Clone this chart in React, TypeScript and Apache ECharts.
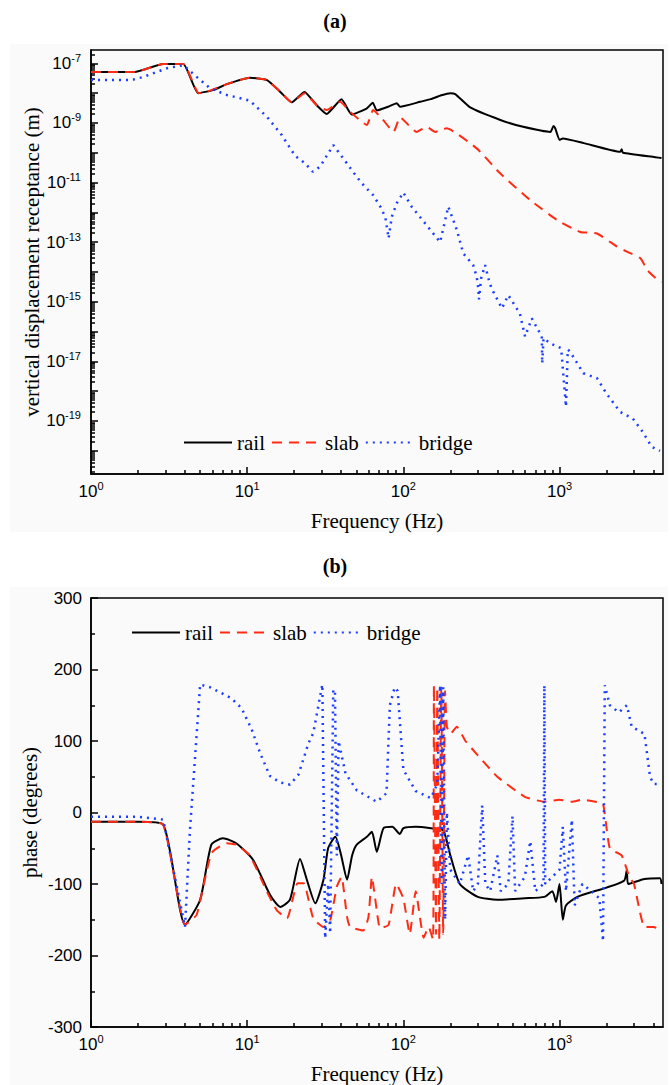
import React, { useEffect, useRef } from "react";
import * as echarts from "echarts";

// ---------- Panel (a): vertical displacement receptance (m) ----------
const freqRailA = [1, 1.9, 2.9, 3.9, 4.85, 6.05, 7.4, 10.4, 13.4, 16.3, 19.3, 23.3, 27.8, 32.3, 40.2, 46.7, 58.4, 63.8, 67.6, 80, 90.7, 95.3, 128, 150, 175, 200, 215, 268, 418, 585, 875, 915, 940, 1000, 1050, 1430, 2450, 2500, 2550, 4100, 4500];
const recRailA = [5.1e-8, 5.1e-8, 9.5e-8, 9.5e-8, 1.0e-8, 1.26e-8, 2.0e-8, 3.3e-8, 2.75e-8, 1.1e-8, 4.9e-9, 1.1e-8, 4.0e-9, 2.0e-9, 6.2e-9, 1.9e-9, 3.1e-9, 4.8e-9, 2.6e-9, 3.5e-9, 4.6e-9, 3.5e-9, 5.1e-9, 6.3e-9, 8.5e-9, 1.0e-8, 9.3e-9, 3.3e-9, 1.26e-9, 7.4e-10, 5.0e-10, 7.9e-10, 6.5e-10, 2.7e-10, 3.0e-10, 2.1e-10, 1.07e-10, 1.32e-10, 1.0e-10, 7.1e-11, 6.6e-11];

const freqSlabA = [1, 1.9, 2.9, 3.9, 4.9, 5.5, 7.4, 10.4, 13.4, 16.3, 19.3, 23.3, 27.8, 32.3, 39.3, 45.6, 52, 58.4, 64, 73, 86.6, 95.3, 121.6, 141, 160, 189, 295, 418, 648, 965, 1360, 1740, 2330, 2700, 3300, 3650, 4130, 4500];
const recSlabA = [5.1e-8, 5.1e-8, 9.5e-8, 9.5e-8, 1.0e-8, 1.1e-8, 2.0e-8, 3.3e-8, 2.75e-8, 1.1e-8, 4.9e-9, 1.0e-8, 4.0e-9, 2.7e-9, 5.1e-9, 2.4e-9, 1.3e-9, 8.5e-10, 2.7e-9, 1.4e-9, 5.0e-10, 1.55e-9, 5.0e-10, 7.4e-10, 5.0e-10, 6.6e-10, 1.4e-10, 2.0e-11, 2.6e-12, 5.5e-13, 2.2e-13, 1.95e-13, 7.1e-14, 4.8e-14, 2.9e-14, 1.15e-14, 6.2e-15, 4.5e-15];

const freqBridgeA = [1, 1.82, 2.16, 3.06, 3.9, 4.75, 5.8, 7.4, 10.4, 13.4, 16.6, 20.3, 23.5, 26.3, 29.3, 35.6, 41.2, 50.3, 56.8, 64.1, 71.2, 76.6, 80.5, 84.3, 90.7, 100, 113, 141, 172, 194, 220, 242, 280, 295, 302, 305, 315, 334, 350, 367, 428, 470, 557, 602, 665, 770, 775, 790, 875, 1025, 1100, 1130, 1170, 1420, 1740, 2000, 2450, 2950, 3400, 3900, 4400];
const recBridgeA = [2.75e-8, 2.75e-8, 3.5e-8, 6.8e-8, 8.7e-8, 3.5e-8, 1.45e-8, 8.7e-9, 5.6e-9, 1.6e-9, 4.0e-10, 7.8e-11, 4.4e-11, 2.3e-11, 3.4e-11, 1.8e-10, 6.5e-11, 1.55e-11, 7.2e-12, 3.8e-12, 1.55e-12, 7e-13, 1.35e-13, 7e-13, 2.0e-12, 4.6e-12, 1.55e-12, 3.7e-13, 1.0e-13, 1.55e-12, 2.6e-13, 4.2e-14, 1.7e-14, 6.9e-15, 2.8e-15, 1.2e-15, 6.2e-15, 1.7e-14, 6.2e-15, 2.8e-15, 6.0e-16, 1.66e-15, 4.1e-16, 6.8e-17, 2.75e-16, 6.8e-17, 8.5e-18, 6e-17, 4.0e-17, 2.75e-17, 3.0e-19, 2.5e-17, 2.1e-17, 4.0e-18, 2.7e-18, 8.3e-19, 2.0e-19, 1.2e-19, 4.4e-20, 1.35e-20, 1.0e-20];

// ---------- Panel (b): phase (degrees) ----------
const freqRailB = [1, 2, 2.9, 4.0, 5.0, 5.9, 7.0, 8.5, 10.9, 14, 16.3, 18.8, 21.8, 24.1, 27.3, 30.8, 33, 36.7, 40, 43.6, 47, 50.3, 58.4, 62.9, 67.6, 74.6, 85, 95, 100, 120, 150, 180, 200, 230, 300, 400, 600, 800, 900, 950, 1000, 1050, 1100, 1300, 2000, 2600, 2700, 2750, 3500, 4400, 4500];
const phaseRailB = [-13, -13, -17, -157, -122, -45, -36, -43, -66, -115, -132, -122, -65, -94, -127, -94, -50, -34, -60, -94, -60, -45, -34, -27, -55, -22, -20, -30, -22, -20, -22, -25, -60, -100, -118, -122, -120, -118, -110, -125, -100, -150, -130, -118, -105, -95, -80, -100, -93, -92, -100];

const freqSlabB = [1, 2, 2.9, 4.0, 4.75, 5.9, 7.4, 8.5, 10.4, 13.4, 15.5, 18, 21, 23, 26.5, 30.8, 34, 37.5, 40.2, 43.6, 45.6, 55.5, 59.8, 62.9, 67.6, 71, 80.5, 90, 100, 110, 120, 135, 145, 155, 157, 162, 165, 170, 175, 180, 185, 190, 200, 220, 250, 300, 400, 600, 800, 1000, 1200, 1400, 1700, 1900, 2100, 2500, 2800, 3000, 3500, 4000, 4500];
const phaseSlabB = [-13, -13, -17, -157, -143, -57, -43, -45, -60, -111, -137, -148, -99, -99, -148, -160, -151, -104, -90, -146, -160, -165, -146, -90, -137, -162, -157, -100, -120, -170, -110, -175, -160, -178, 178, -170, 175, -178, 175, -170, 170, 120, 110, 120, 100, 80, 50, 22, 15, 18, 15, 18, 15, 12, -50, -60, -90, -100, -160, -160, -165];

const freqBridgeB = [1, 2, 2.9, 4.0, 4.3, 5.0, 5.8, 7.9, 9.2, 10.7, 12.1, 14, 16.3, 18.8, 21.3, 24.7, 26.5, 29.3, 30.3, 31.6, 33, 34, 35.6, 36.5, 37.5, 38.5, 42.6, 50.3, 67.6, 78, 82, 88, 92, 100, 120, 150, 165, 172, 176, 180, 185, 190, 200, 230, 260, 280, 300, 320, 335, 360, 400, 420, 470, 500, 520, 600, 650, 700, 790, 800, 810, 900, 1000, 1050, 1100, 1200, 1250, 1400, 1600, 1800, 1900, 1950, 2100, 2400, 2700, 2900, 3500, 3800, 4000, 4500];
const phaseBridgeB = [-6, -6, -10, -160, -25, 179, 175, 160, 146, 116, 83, 51, 42, 39, 53, 97, 111, 162, 179, -176, -100, -169, 172, 170, -60, 100, 55, 31, 15, 27, 150, 175, 170, 60, 30, 20, 40, 178, -100, 175, -150, 0, -80, -100, -60, -110, -100, 10, -100, -110, -60, -110, -100, -5, -110, -90, -40, -110, -100, 178, -100, -90, -80, -20, -110, -10, -130, -100, -110, -120, -180, 178, 150, 140, 150, 120, 110, 50, 40, 40];

// ---------- Axis ticks / labels ----------
const xMin = 1;
const xMax = 4600;
const xLabelValues = [1, 10, 100, 1000];
const yAMin = 1.66e-21;
const yAMax = 2.8e-7;
const yALabelExps = [-7, -9, -11, -13, -15, -17, -19];
const yAMajorExps = [-7, -8, -9, -10, -11, -12, -13, -14, -15, -16, -17, -18, -19, -20];
const yBLabels = [-300, -200, -100, 0, 100, 200, 300];

const RED = "#ff2b12";
const BLUE = "#1a3dff";
const SANS = "Liberation Sans";
const SERIF = "Liberation Serif";

function zip(xs: number[], ys: number[]) {
  return xs.map((x, i) => [x, ys[i]]);
}

function minorLogTicks(kFrom: number, kTo: number, lo: number, hi: number) {
  const out: number[] = [];
  for (let k = kFrom; k <= kTo; k++) {
    for (let m = 2; m <= 9; m++) {
      const v = m * Math.pow(10, k);
      if (v > lo && v < hi) out.push(v);
    }
  }
  return out;
}

const powLabel = (v: number) => {
  const e = Math.round(Math.log10(v));
  return `{b|10}{s|${e}}`;
};

const richPow = {
  b: { fontFamily: SANS, fontSize: 17, color: "#000" },
  s: { fontFamily: SANS, fontSize: 11, color: "#000", padding: [0, 0, 11, 0] },
};

export default function App() {
  const ref = useRef<HTMLDivElement>(null);

  useEffect(() => {
    if (!ref.current) return;
    const chart = echarts.init(ref.current, undefined, { renderer: "svg" });

    const xMinor = minorLogTicks(0, 3, xMin, xMax);
    const yAMinor = minorLogTicks(-21, -7, yAMin, yAMax);
    const yALabelVals = yALabelExps.map((e) => Math.pow(10, e));
    const yAMajorVals = yAMajorExps.map((e) => Math.pow(10, e));

    const axisLineStyle = { color: "#000", width: 1.5 };

    const mkXAxes = (gi: number) => [
      {
        type: "log",
        gridIndex: gi,
        position: "bottom",
        min: xMin,
        max: xMax,
        name: "Frequency (Hz)",
        nameLocation: "middle",
        nameGap: 36,
        nameMoveOverlap: false,
        nameTextStyle: { fontFamily: SERIF, fontSize: 21, color: "#000" },
        axisLine: { show: true, onZero: false, lineStyle: axisLineStyle },
        axisTick: { show: true, inside: true, length: 7, customValues: xLabelValues, lineStyle: axisLineStyle },
        axisLabel: { show: true, customValues: xLabelValues, formatter: powLabel, rich: richPow, margin: 6 },
        splitLine: { show: false },
      },
      {
        type: "log",
        gridIndex: gi,
        position: "bottom",
        min: xMin,
        max: xMax,
        axisLine: { show: false, onZero: false },
        axisTick: { show: true, inside: true, length: 4, customValues: xMinor, lineStyle: axisLineStyle },
        axisLabel: { show: false },
        splitLine: { show: false },
      },
    ];

    const lineSeries = (name: string, xi: number, yi: number, data: number[][], color: string, type: any, width: number, smooth: number) => ({
      type: "line",
      name,
      xAxisIndex: xi,
      yAxisIndex: yi,
      data,
      symbol: "none",
      showSymbol: false,
      smooth,
      lineStyle: { color, width, type },
      itemStyle: { color },
      z: 3,
    });

    const legendBase = {
      orient: "horizontal",
      itemWidth: 48,
      itemHeight: 14,
      itemGap: 6,
      selectedMode: false,
      itemStyle: { opacity: 0 },
      textStyle: { fontFamily: SERIF, fontSize: 21, color: "#000" },
      data: ["rail", "slab", "bridge"],
    };

    const option: any = {
      animation: false,
      backgroundColor: "#ffffff",
      title: [
        { text: "(a)", left: "center", top: 6, textStyle: { fontFamily: SERIF, fontSize: 20, fontWeight: "bold", color: "#000" } },
        { text: "(b)", left: "center", top: 551, textStyle: { fontFamily: SERIF, fontSize: 20, fontWeight: "bold", color: "#000" } },
      ],
      graphic: [
        { type: "rect", z: -10, shape: { x: 10, y: 44, width: 658, height: 488 }, style: { fill: "#fafafa" } },
        { type: "rect", z: -10, shape: { x: 10, y: 587, width: 658, height: 498 }, style: { fill: "#fafafa" } },
      ],
      legend: [
        { ...legendBase, left: 178, top: 427 },
        { ...legendBase, left: 126, top: 617 },
      ],
      grid: [
        { left: 91, top: 50, width: 572, height: 424, show: true, borderColor: "#000", borderWidth: 1.5, backgroundColor: "transparent" },
        { left: 91, top: 598, width: 572, height: 429, show: true, borderColor: "#000", borderWidth: 1.5, backgroundColor: "transparent" },
      ],
      xAxis: [...mkXAxes(0), ...mkXAxes(1)],
      yAxis: [
        {
          type: "log",
          gridIndex: 0,
          position: "left",
          min: yAMin,
          max: yAMax,
          name: "vertical displacement receptance (m)",
          nameLocation: "middle",
          nameGap: 49,
          nameMoveOverlap: false,
          nameTextStyle: { fontFamily: SERIF, fontSize: 21, color: "#000" },
          axisLine: { show: true, onZero: false, lineStyle: axisLineStyle },
          axisTick: { show: true, inside: true, length: 7, customValues: yAMajorVals, lineStyle: axisLineStyle },
          axisLabel: { show: true, customValues: yALabelVals, formatter: powLabel, rich: richPow, margin: 10 },
          splitLine: { show: false },
        },
        {
          type: "log",
          gridIndex: 0,
          position: "left",
          offset: 0,
          min: yAMin,
          max: yAMax,
          axisLine: { show: false, onZero: false },
          axisTick: { show: true, inside: true, length: 4, customValues: yAMinor, lineStyle: axisLineStyle },
          axisLabel: { show: false },
          splitLine: { show: false },
        },
        {
          type: "value",
          gridIndex: 1,
          position: "left",
          min: -300,
          max: 300,
          interval: 100,
          name: "phase (degrees)",
          nameLocation: "middle",
          nameGap: 51,
          nameMoveOverlap: false,
          nameTextStyle: { fontFamily: SERIF, fontSize: 21, color: "#000" },
          axisLine: { show: true, onZero: false, lineStyle: axisLineStyle },
          axisTick: { show: true, inside: true, length: 7, lineStyle: axisLineStyle },
          minorTick: { show: true, splitNumber: 2, length: 4, lineStyle: axisLineStyle },
          axisLabel: { show: true, customValues: yBLabels, fontFamily: SANS, fontSize: 17, color: "#000", margin: 9 },
          splitLine: { show: false },
          minorSplitLine: { show: false },
        },
      ],
      series: [
        lineSeries("rail", 0, 0, zip(freqRailA, recRailA), "#000", "solid", 2, 0.15),
        lineSeries("slab", 0, 0, zip(freqSlabA, recSlabA), RED, [10, 7], 2, 0.15),
        lineSeries("bridge", 0, 0, zip(freqBridgeA, recBridgeA), BLUE, [2, 5], 2.5, 0),
        lineSeries("rail", 2, 2, zip(freqRailB, phaseRailB), "#000", "solid", 2, 0.2),
        lineSeries("slab", 2, 2, zip(freqSlabB, phaseSlabB), RED, [10, 7], 2, 0.15),
        lineSeries("bridge", 2, 2, zip(freqBridgeB, phaseBridgeB), BLUE, [2, 5], 2.5, 0),
      ],
    };

    chart.setOption(option);
    return () => chart.dispose();
  }, []);

  return <div ref={ref} style={{ position: "absolute", left: 0, top: 0, width: 670, height: 1085 }} />;
}
